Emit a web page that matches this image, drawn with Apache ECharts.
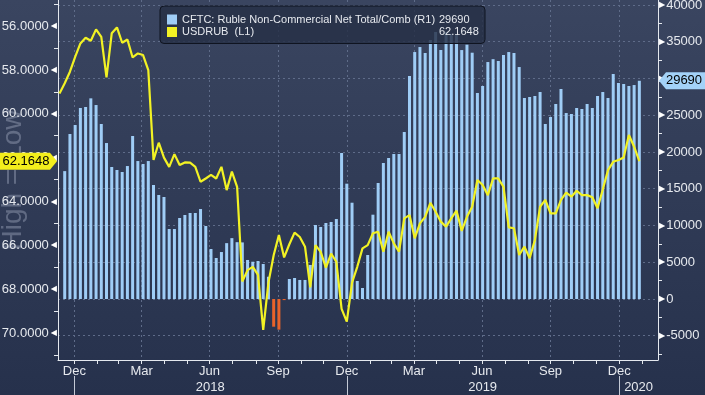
<!DOCTYPE html>
<html><head><meta charset="utf-8">
<script src="https://cdn.jsdelivr.net/npm/echarts@6/dist/echarts.min.js"></script>
<style>html,body{margin:0;padding:0;background:#2c3753;}#c{width:705px;height:395px;}</style>
</head><body><div id="c"></div>
<script>
// ---- data (weekly) ----
const cftcFirstDate = '2017-12-19';   // CFTC weekly report dates (Tuesdays)
const cftcName = 'CFTC: Ruble Non-Commercial Net Total/Comb (R1)';
const cftcNet = [
  17400, 22450, 23670, 25990, 26120, 27300, 26390, 23810, 21220, 17960,
  17550, 17280, 18090, 22180, 18770, 18370, 18770, 15510, 14150, 13880,
  9520, 9520, 11020, 11430, 11700, 11700, 12240, 9930, 6800, 5580,
  6390, 7600, 8280, 7730, 7700, 5310, 5070, 5170, 4760, 3030,
  -3770, -4170, -150, 2720, 2860, 2590, 2590, 4630, 10070, 9800,
  10340, 10480, 10880, 19860, 15690, 13100, 2450, 1500, 5990, 11470,
  15780, 18500, 19180, 19730, 19730, 22720, 30340, 33600, 34280, 33470,
  35240, 36330, 33880, 36330, 36050, 36050, 33870, 34600, 33510, 28030,
  28980, 32240, 32630, 32380, 33200, 33600, 33470, 31560, 27350, 27480,
  27620, 28160, 23810, 24760, 26530, 28570, 25300, 25170, 25990, 25850,
  26530, 25990, 27620, 28160, 27350, 30610, 29390, 29250, 28980, 29110,
  29690
];
const usdrubFirstDate = '2017-12-12';
const usdrubName = 'USDRUB  (L1)';
const usdrub = [
  59.07,
  58.61, 58.08, 57.40, 56.79, 56.53, 56.67, 56.15, 56.49, 58.34, 56.33,
  56.06, 56.76, 56.61, 57.43, 57.25, 57.32, 58.01, 62.11, 61.32, 62.00,
  62.42, 61.84, 62.34, 62.22, 62.23, 62.42, 63.10, 62.95, 62.79, 62.95,
  62.42, 63.48, 62.64, 63.33, 67.65, 67.13, 66.98, 67.35, 69.86, 67.70,
  66.45, 65.53, 66.55, 65.95, 65.42, 65.62, 66.06, 67.92, 65.99, 66.30,
  67.02, 66.38, 66.75, 68.90, 69.48, 67.70, 66.98, 66.14, 65.99, 65.45,
  65.38, 66.29, 65.38, 65.91, 66.29, 64.77, 64.62, 65.68, 65.00, 64.70,
  64.06, 64.47, 64.92, 65.15, 64.77, 64.42, 65.34, 64.70, 64.24, 63.02,
  63.25, 63.71, 62.95, 62.95, 63.33, 65.18, 65.22, 66.44, 66.06, 66.59,
  65.76, 64.24, 63.93, 64.54, 64.54, 63.93, 63.60, 63.78, 63.51, 63.71,
  63.71, 63.81, 64.31, 63.45, 62.57, 62.19, 62.11, 61.99, 60.97, 61.50,
  62.1648
];
const lastCftcLabel = '29690';
const lastUsdrubLabel = '62.1648';
const monthNames = ['Jan','Feb','Mar','Apr','May','Jun','Jul','Aug','Sep','Oct','Nov','Dec'];
const leftTickLabels = [56, 58, 60, 62, 64, 66, 68, 70];
const rightTickLabels = [-5000, 0, 5000, 10000, 15000, 20000, 25000, 30000, 35000, 40000];

// ---- helpers ----
const DAY = 86400000;
const parse = s => Date.parse(s + 'T00:00:00Z');
const weekly = (first, arr) => arr.map((v, i) => [parse(first) + i * 7 * DAY, v]);
const xMin = Date.UTC(2017, 11, 10), xMax = Date.UTC(2020, 1, 22);
const monthStarts = [], quarterStarts = [], yearStarts = [];
for (let y = 2018; y <= 2020; y++) for (let m = 0; m < 12; m++) {
  const t = Date.UTC(y, m, 1);
  if (t > xMax) break;
  monthStarts.push(t);
  if (m % 3 === 0) quarterStarts.push(t);
  if (m === 0) yearStarts.push(t);
}
const yearMids = [Date.UTC(2018, 6, 2), Date.UTC(2019, 6, 2), (Date.UTC(2020, 0, 1) + xMax) / 2];
const leftTicks = []; for (let v = 55; v <= 71; v += 2) leftTicks.push(v);
const rightTicks = []; for (let v = -7500; v <= 40000; v += 5000) rightTicks.push(v);

const txt = '#e6e9ee';
const font = 'Liberation Sans';
const barColor = '#9fcdf6', negColor = '#e8632a', lineColor = '#f2f224';
const chart = echarts.init(document.getElementById('c'), null, {renderer: 'canvas'});
const option = {
  animation: false,
  backgroundColor: {type: 'linear', x: 0, y: 0, x2: 0, y2: 1, colorStops: [
    {offset: 0, color: '#3a4560'}, {offset: 1, color: '#26314c'}]},
  textStyle: {fontFamily: font},
  grid: {left: 58, right: 47, top: 0, bottom: 35, outerBoundsMode: 'none', containLabel: false},
  legend: {
    left: 160, top: 6, orient: 'vertical', itemGap: 1.5, padding: [8, 6, 6, 7],
    backgroundColor: 'rgba(38,48,70,0.82)', borderColor: '#0f1420', borderWidth: 1, borderRadius: 4,
    icon: 'rect', itemWidth: 10, itemHeight: 10,
    data: [{name: cftcName, itemStyle: {color: barColor}}, {name: usdrubName, itemStyle: {color: lineColor}}],
    formatter: n => '{n|' + n + '}{v|' + (n === cftcName ? lastCftcLabel : lastUsdrubLabel) + '}',
    textStyle: {color: txt, fontFamily: font, fontSize: 11,
      rich: {n: {width: 257, fontSize: 11, color: txt, fontFamily: font, lineHeight: 13.5},
             v: {width: 40, fontSize: 11, color: txt, fontFamily: font, lineHeight: 13.5}}}
  },
  xAxis: [
    {type: 'value', min: xMin, max: xMax, position: 'bottom',
     axisLine: {show: true, onZero: false, lineStyle: {color: '#e4e8ee', width: 1}},
     axisTick: {show: true, customValues: monthStarts, length: 4, lineStyle: {color: '#e4e8ee'}},
     axisLabel: {customValues: quarterStarts, color: txt, fontSize: 13, margin: 5,
       formatter: v => monthNames[new Date(v - DAY).getUTCMonth()]},
     splitLine: {show: false}},
    {type: 'value', min: xMin, max: xMax, position: 'bottom',
     axisLine: {show: false, onZero: false}, axisTick: {show: false, customValues: quarterStarts},
     axisLabel: {show: false},
     splitLine: {show: true, lineStyle: {color: '#5f6c89', type: [2, 3], width: 1}}},
    {type: 'value', min: xMin, max: xMax, position: 'bottom', offset: 16,
     axisLine: {show: false, onZero: false},
     axisTick: {show: true, customValues: yearStarts, length: 19, lineStyle: {color: '#c4cad6'}},
     axisLabel: {customValues: yearMids, color: txt, fontSize: 13, margin: 5,
       formatter: v => String(new Date(v).getUTCFullYear())},
     splitLine: {show: false}}
  ],
  yAxis: [
    {type: 'value', position: 'left', inverse: true, min: 54.81, max: 71.23,
     name: 'High = Low', nameLocation: 'middle', nameRotate: 90, nameGap: 31, nameMoveOverlap: false,
     nameTextStyle: {color: 'rgba(175,185,205,0.38)', fontSize: 28, fontFamily: font},
     axisLine: {show: true, onZero: false, lineStyle: {color: '#e4e8ee'}},
     axisTick: {show: true, customValues: leftTicks, length: 4, lineStyle: {color: '#e4e8ee'}},
     axisLabel: {customValues: leftTickLabels, color: txt, fontSize: 13, margin: 1,
       formatter: v => '{v|' + v.toFixed(4) + '}{t|◀}',
       rich: {v: {fontSize: 13, color: txt, fontFamily: font, padding: [0, 2, 0, 0]},
              t: {fontSize: 8, color: '#ffffff', fontFamily: 'DejaVu Sans'}}},
     splitLine: {show: false}},
    {type: 'value', position: 'right', min: -8300, max: 40680,
     axisLine: {show: true, onZero: false, lineStyle: {color: '#e4e8ee'}},
     axisTick: {show: true, customValues: rightTicks, length: 4, lineStyle: {color: '#e4e8ee'}},
     axisLabel: {customValues: rightTickLabels, color: txt, fontSize: 13, margin: 1,
       formatter: v => '{t|▶}{v|' + v + '}',
       rich: {v: {fontSize: 13, color: txt, fontFamily: font, padding: [0, 0, 0, 1]},
              t: {fontSize: 8, color: '#ffffff', fontFamily: 'DejaVu Sans'}}},
     splitLine: {show: false}},
    {type: 'value', position: 'right', min: -8300, max: 40680,
     axisLine: {show: false, onZero: false}, axisTick: {show: false, customValues: rightTickLabels},
     axisLabel: {show: false},
     splitLine: {show: true, lineStyle: {color: '#5f6c89', type: [2, 3], width: 1}}}
  ],
  series: [
    {name: cftcName, type: 'bar', xAxisIndex: 0, yAxisIndex: 1, barWidth: 3,
     itemStyle: {color: p => p.value[1] < 0 ? negColor : barColor},
     data: weekly(cftcFirstDate, cftcNet), z: 2},
    {name: usdrubName, type: 'line', xAxisIndex: 0, yAxisIndex: 0, showSymbol: false,
     lineStyle: {color: lineColor, width: 2.2}, itemStyle: {color: lineColor},
     data: weekly(usdrubFirstDate, usdrub), z: 3}
  ]
};
chart.setOption(option);

// value tags on the axes, positioned through the axes' own scales
const yR = chart.convertToPixel({yAxisIndex: 1}, cftcNet[cftcNet.length - 1]);
const yL = chart.convertToPixel({yAxisIndex: 0}, usdrub[usdrub.length - 1]);
const h = 8.5;
chart.setOption({graphic: [
  {type: 'polygon', shape: {points: [[0, yL - h], [50, yL - h], [57, yL], [50, yL + h], [0, yL + h]]},
   style: {fill: '#f3ee1c'}, z: 10},
  {type: 'text', x: 26, y: yL, style: {text: lastUsdrubLabel, fill: '#000', font: '13px "Liberation Sans"', align: 'center', verticalAlign: 'middle'}, z: 11},
  {type: 'polygon', shape: {points: [[659, yR], [666, yR - h], [705, yR - h], [705, yR + h], [666, yR + h]]},
   style: {fill: '#a3d2f8'}, z: 10},
  {type: 'text', x: 684, y: yR, style: {text: lastCftcLabel, fill: '#000', font: '13px "Liberation Sans"', align: 'center', verticalAlign: 'middle'}, z: 11}
]});
</script></body></html>
